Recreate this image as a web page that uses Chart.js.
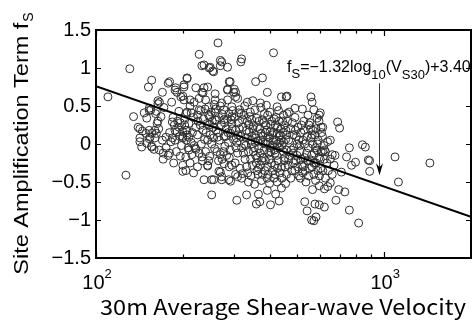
<!DOCTYPE html>
<html>
<head>
<meta charset="utf-8">
<script src="https://cdn.jsdelivr.net/npm/chart.js@4.4.0/dist/chart.umd.min.js"></script>
<style>
    html, body { margin: 0; padding: 0; background: #fff; }
</style>
</head>
<body>
<canvas id="ChartSiteTerm" width="476" height="324"></canvas>
<script>
// [Vs30 (m/s), site term fs]
const sparsePoints = [
    [110,0.62],[131,0.99],[156,0.84],[135,0.36],[127,-0.41],[265,1.33],[228,1.18],[233,1.03],[247,1.0],[254,0.96],
    [273,1.08],[286,1.01],[320,1.12],[318,1.08],[413,1.2],[358,0.82],[378,0.87],[393,0.68],[457,0.62],[557,0.62],
    [562,0.55],[570,0.45],[595,0.38],[604,0.22],[689,0.29],[700,0.21],[757,-0.05],[860,-0.04],[881,-0.21],[636,0.03],
    [625,-0.1],[1090,-0.17],[1440,-0.25],[1120,-0.5],[740,-0.17],[795,-0.24],[770,-0.28],[890,-0.22],[890,-0.36],[710,-0.37],
    [670,-0.28],[660,-0.14],[620,-0.08],[730,-0.63],[695,-0.6],[680,-0.74],[650,-0.51],[757,-0.87],[815,-1.04],[620,-0.83],
    [595,-0.8],[575,-0.79],[530,-0.76],[540,-0.88],[580,-0.96],[570,-1.01],[560,-1.0],[620,-0.59],[637,-0.56],
    [252,-0.67],[308,-0.74],[333,-0.67],[366,-0.66],[360,-0.79],[370,-0.76],[403,-0.8],[432,-0.75],[393,-0.61],[420,-0.66],
    [252,-0.47],[256,-0.47],[273,-0.47],[293,-0.49],[310,-0.43],[270,-0.37],[322,-0.39],[338,-0.5],[355,-0.53],[333,-0.3],
    [233,-0.17],[244,-0.28],[246,-0.22],[215,-0.14],[222,-0.07],[278,-0.26],[296,-0.28],
    [156,-0.03],[159,-0.07],[166,-0.08],[171,-0.2],[180,-0.12],[196,-0.16],[200,-0.36],[209,-0.05],[142,0.03],[182,0.03],
    [205,-0.17],[244,-0.29],[267,-0.36],[273,-0.43],[237,-0.47],[289,-0.47]
];

const upperLeftPoints = [
    [152,0.75],[178,0.8],[188,0.71],[170,0.68],[207,0.86],[202,0.75],[200,0.63],[202,0.58],[164,0.57],[164,0.53],
    [155,0.45],[153,0.44],[162,0.43],[147,0.41],[150,0.34],[164,0.3],[163,0.27],[184,0.29],[187,0.25],[194,0.43],
    [207,0.42],[203,0.32],[194,0.22],[188,0.18],[200,0.16],[207,0.18],[207,0.12],[200,0.1],[184,0.08],[160,0.18],
    [153,0.18],[156,0.14],[162,0.14],[142,0.2],[142,0.08],[153,0.07],[160,0.08],[188,0.05],[200,0.08],[210,0.09],
    [153,0.47],[166,0.55],[161,0.4],[140,0.22],[145,0.17],[149,0.14],[154,0.09],[150,0.01],[156,-0.04],[144,-0.04],
    [171,-0.12],[175,0.09],[191,0.16],[205,0.18],[196,0.28],[205,0.4],[191,0.68],[189,0.74],[202,0.78],[207,0.87],
    [180,0.82],[197,0.62],[222,0.74],[212,0.58],[228,0.6],[233,0.68],[244,0.75],[259,0.58],[273,0.54],[286,0.71],
    [292,0.82],[300,0.68],[305,0.62],[246,0.49],[228,0.45],[214,0.41],[259,0.41],[278,0.45],[296,0.49],[248,0.36],
    [259,0.32],[278,0.32],[296,0.36],[313,0.41],[237,1.04],[249,1.01],[256,0.95],[270,1.1],[270,1.03],[290,0.82],
    [286,0.72],[302,0.72],[305,0.68],[237,0.74],[235,0.67],[259,0.66],[240,0.58],[219,0.55],[286,0.58],[310,0.6],
    [335,0.55],[350,0.57],[372,0.54],[390,0.51],[425,0.49],[440,0.62],[460,0.63],[490,0.47],[520,0.46],[600,0.41],
    [585,0.34],[612,0.22],[552,0.28],[566,0.18],[650,0.05],[840,-0.01],
    [165,0.2],[170,0.05],[175,-0.05],[180,0.15],[185,0.35],[190,-0.1],[195,0.1],[198,-0.02],[203,0.25],[168,0.36],
    [178,-0.15],[186,-0.25],[192,0.3],[200,-0.28],[205,-0.35],[212,-0.25],[218,-0.38],[225,-0.3],[172,0.48],[183,0.55]
];

const corePoints = [
    [212,0.5],[218,0.35],[222,0.22],[225,0.12],[214,0.02],[219,-0.02],[226,0.3],[231,0.44],[235,0.18],[238,0.06],
    [240,-0.1],[243,0.27],[246,0.38],[249,0.12],[252,0.0],[255,0.22],[258,-0.06],[260,0.46],[262,0.31],[265,0.15],
    [268,0.05],[270,-0.14],[272,0.25],[275,0.39],[278,0.1],[280,-0.03],[283,0.2],[286,0.33],[288,0.02],[290,-0.18],
    [293,0.14],[296,0.27],[298,0.44],[300,0.06],[228,-0.12],[234,-0.22],[248,-0.16],[256,0.08],[263,-0.1],[274,-0.2],
    [282,0.1],[292,-0.08],[297,0.2],[230,0.25],[241,0.15],[253,0.3],[267,0.35],[279,0.28],[289,0.4],[244,0.05],
    [261,0.18],[277,-0.1],[216,0.15],[221,-0.05],[236,0.33],[251,0.42],[266,-0.22],[284,-0.15],[294,0.32],[270,0.5],
    [257,0.52],[239,0.46],[225,0.38],[210,0.27],[206,0.05],[210,-0.08],[232,0.0],[247,0.25],[264,0.09],[287,0.15],
    [302,0.35],[305,0.18],[308,0.02],[310,-0.12],[312,0.28],[315,0.45],[318,0.1],[320,-0.05],[323,0.22],[326,0.38],
    [329,-0.2],[332,0.08],[335,0.3],[338,-0.1],[340,0.16],[343,0.42],[346,0.0],[349,-0.28],[352,0.24],[355,0.12],
    [358,-0.15],[361,0.34],[364,0.04],[367,-0.06],[370,0.2],[373,0.48],[376,-0.22],[379,0.1],[382,0.28],[385,-0.35],
    [388,0.0],[391,0.18],[394,0.38],[397,-0.12],[400,0.08],[403,0.26],[406,-0.25],[409,-0.02],[412,0.15],[415,0.33],
    [418,-0.4],[421,0.05],[424,-0.15],[427,0.22],[430,0.44],[433,-0.05],[436,0.12],[440,-0.3],[444,0.3],[448,0.02],
    [452,-0.18],[456,0.18],[460,0.4],[304,-0.25],[316,-0.32],[328,0.5],[336,-0.38],[347,0.32],[356,0.45],[366,-0.32],
    [374,0.14],[383,-0.08],[392,-0.45],[401,0.42],[410,-0.35],[419,0.25],[428,-0.22],[438,0.2],[446,-0.1],[455,0.06],
    [307,0.08],[314,0.2],[322,0.32],[331,-0.02],[339,0.25],[348,0.1],[357,0.02],[363,0.22],[371,-0.12],[378,0.32],
    [386,0.15],[395,0.02],[404,-0.1],[413,0.05],[422,0.35],[431,0.1],[442,-0.02],[450,0.25],[458,-0.08],[325,-0.12],
    [344,-0.2],[362,-0.18],[381,-0.18],[399,-0.2],[417,-0.28],[435,-0.38],[453,-0.3],[311,0.12],[333,0.18],[354,-0.05],
    [368,0.3],[389,0.25],[407,0.3],[426,0.0],[445,0.15],[319,0.4],[341,0.36],[360,-0.25],[384,0.4],[402,0.16],
    [425,0.14],[447,0.38],[306,-0.05],[327,0.0],[350,0.2],[372,0.05],[396,0.1],[416,-0.08],[439,0.05],[459,0.12],
    [290,-0.3],[305,-0.4],[320,-0.45],[345,-0.42],[375,-0.48],[400,-0.52],[425,-0.5],[440,-0.58],[455,-0.52],
    [462,0.3],[466,0.05],[470,-0.15],[474,0.2],[478,-0.35],[482,0.12],[486,-0.05],[490,0.35],[494,-0.22],[498,0.0],
    [502,0.22],[506,-0.42],[510,-0.1],[514,0.15],[518,-0.28],[522,0.05],[526,0.3],[530,-0.18],[535,-0.5],[540,0.1],
    [545,-0.05],[550,-0.32],[555,0.2],[560,-0.15],[565,0.0],[570,-0.4],[575,0.12],[580,-0.25],[585,-0.08],[590,0.05],
    [595,-0.55],[600,-0.2],[606,0.15],[612,-0.35],[618,-0.02],[625,-0.45],[632,-0.25],[468,0.42],[484,-0.25],[500,-0.3],
    [516,0.25],[532,-0.35],[548,0.25],[564,-0.6],[580,0.2],[596,-0.42],[610,0.1],[476,-0.08],[492,0.18],[508,-0.02],
    [524,-0.3],[542,-0.22],[558,0.08],[572,-0.12],[588,-0.35],[604,-0.1],[620,-0.2],[464,-0.28],[480,0.28],[496,0.1],
    [512,-0.45],[528,0.18],[544,0.38],[562,-0.3],[578,-0.48],[594,0.3],[640,-0.35],[650,-0.2],[660,-0.4],[675,-0.15]
];

// extra points where the cloud is nearly solid (Vs30 350-620, fs -0.5..0.2)
const densePoints = [
    [352,-0.1],[358,0.08],[365,-0.4],[372,-0.28],[380,0.02],[387,-0.22],[394,-0.3],[402,-0.05],[410,0.12],[418,-0.12],
    [426,-0.32],[434,0.02],[442,-0.45],[450,-0.22],[458,-0.4],[466,-0.2],[474,-0.45],[482,-0.12],[490,-0.35],[498,-0.15],
    [506,0.05],[514,-0.2],[522,-0.38],[530,0.0],[538,-0.12],[546,-0.42],[554,-0.22],[562,0.12],[570,-0.25],[578,-0.05],
    [586,0.0],[594,-0.18],[602,-0.32],[612,-0.1],[345,0.05],[362,-0.35],[378,-0.4],[396,-0.4],[414,-0.45],[432,0.3]
];

// regression line end points: fs = -1.32 log10(Vs30) + 3.40
const lineV = [100, 2000];
const lineF = [0.76, -0.957];

const yTicks = [-1.5, -1, -0.5, 0, 0.5, 1, 1.5];
const xMajorTicks = [100, 1000];
const xMajorExp = ['2', '3'];
const xMinorTicks = [200, 300, 400, 500, 600, 700, 800, 900];

// arrow from the equation down to the line
const arrowV = 960;
const arrowFrom = 0.80;
const arrowTo = -0.41;
const eqV = 460;
const eqF = 0.95;

const scatterData = sparsePoints.concat(upperLeftPoints, corePoints, densePoints).map(function (p) {
    return { x: p[0], y: p[1] };
});
const lineData = lineV.map(function (v, i) { return { x: v, y: lineF[i] }; });

const sansFont = '"Liberation Sans", Arial, sans-serif';

// text squeezed/stretched horizontally to a given width
function fitText(ctx, text, x, y, width) {
    const w = ctx.measureText(text).width;
    ctx.save();
    ctx.translate(x, y);
    ctx.scale(width / w, 1);
    ctx.fillText(text, 0, 0);
    ctx.restore();
}

// draws the frame, inward ticks, x labels, titles, equation and arrow
const decorPlugin = {
    id: 'decor',
    afterDraw: function (chart) {
        const ctx = chart.ctx;
        const area = chart.chartArea;
        const xs = chart.scales.x;
        const ys = chart.scales.y;
        ctx.save();

        // frame
        ctx.strokeStyle = '#000';
        ctx.lineWidth = 2;
        ctx.strokeRect(area.left, area.top, area.right - area.left, area.bottom - area.top);

        // ticks
        ctx.lineWidth = 1.2;
        ctx.beginPath();
        yTicks.forEach(function (v) {
            const py = Math.round(ys.getPixelForValue(v)) + 0.5;
            ctx.moveTo(area.left, py); ctx.lineTo(area.left + 5, py);
            ctx.moveTo(area.right, py); ctx.lineTo(area.right - 5, py);
        });
        xMajorTicks.forEach(function (v) {
            const px = Math.round(xs.getPixelForValue(v)) + 0.5;
            ctx.moveTo(px, area.bottom); ctx.lineTo(px, area.bottom - 6);
            ctx.moveTo(px, area.top); ctx.lineTo(px, area.top + 6);
        });
        xMinorTicks.forEach(function (v) {
            const px = Math.round(xs.getPixelForValue(v)) + 0.5;
            ctx.moveTo(px, area.bottom); ctx.lineTo(px, area.bottom - 3.5);
            ctx.moveTo(px, area.top); ctx.lineTo(px, area.top + 3.5);
        });
        ctx.stroke();

        // x tick labels 10^n
        ctx.fillStyle = '#000';
        ctx.textBaseline = 'alphabetic';
        ctx.textAlign = 'left';
        xMajorTicks.forEach(function (v, i) {
            const px = xs.getPixelForValue(v);
            ctx.font = '20px ' + sansFont;
            const w1 = ctx.measureText('10').width;
            ctx.font = '13px ' + sansFont;
            const w2 = ctx.measureText(xMajorExp[i]).width;
            const start = px - (w1 + w2) / 2 + 1;
            ctx.font = '20px ' + sansFont;
            ctx.fillText('10', start, area.bottom + 31);
            ctx.font = '13px ' + sansFont;
            ctx.fillText(xMajorExp[i], start + w1, area.bottom + 20);
        });

        // x title
        ctx.font = '21px "Noto Sans CJK JP", ' + sansFont;
        ctx.textAlign = 'left';
        fitText(ctx, '30m Average Shear-wave Velocity', 100, 315, 366);

        // y title
        ctx.save();
        ctx.translate(28, (area.top + area.bottom) / 2);
        ctx.rotate(-Math.PI / 2);
        ctx.textAlign = 'left';
        ctx.font = '21px ' + sansFont;
        const yMain = 'Site Amplification Term f';
        const mainLen = 252;
        ctx.font = '14px ' + sansFont;
        const ws = ctx.measureText('S').width;
        const ys0 = -(mainLen + ws) / 2;
        ctx.font = '21px ' + sansFont;
        fitText(ctx, yMain, ys0, 0, mainLen);
        ctx.font = '14px ' + sansFont;
        ctx.fillText('S', ys0 + mainLen + 1, 5);
        ctx.restore();

        // equation
        const parts = [
            ['f', 16, 0], ['S', 13, 6], ['=\u22121.32log', 16, 0], ['10', 13, 7],
            ['(V', 16, 0], ['S30', 13, 7], [')+3.40', 16, 0]
        ];
        let ex = xs.getPixelForValue(eqV);
        const ey = ys.getPixelForValue(eqF);
        ctx.textAlign = 'left';
        parts.forEach(function (p) {
            ctx.font = p[1] + 'px ' + sansFont;
            ctx.fillText(p[0], ex, ey + p[2]);
            ex += ctx.measureText(p[0]).width;
        });

        // arrow
        const ax = Math.round(xs.getPixelForValue(arrowV)) + 0.5;
        const ay1 = ys.getPixelForValue(arrowFrom);
        const ay2 = ys.getPixelForValue(arrowTo);
        ctx.strokeStyle = '#333';
        ctx.lineWidth = 1;
        ctx.beginPath();
        ctx.moveTo(ax, ay1);
        ctx.lineTo(ax, ay2 - 8);
        ctx.stroke();
        ctx.fillStyle = '#000';
        ctx.beginPath();
        ctx.moveTo(ax, ay2);
        ctx.lineTo(ax - 3.5, ay2 - 12);
        ctx.lineTo(ax, ay2 - 8);
        ctx.lineTo(ax + 3.5, ay2 - 12);
        ctx.closePath();
        ctx.fill();

        ctx.restore();
    }
};

const config = {
    type: 'scatter',
    data: {
        datasets: [{
            type: 'line',
            data: lineData,
            borderColor: '#000',
            borderWidth: 2,
            pointRadius: 0,
            fill: false
        }, {
            data: scatterData,
            pointRadius: 4,
            pointBorderWidth: 1,
            pointBackgroundColor: 'rgba(0,0,0,0)',
            pointBorderColor: '#2e2e2e'
        }]
    },
    options: {
        responsive: false,
        animation: false,
        devicePixelRatio: 1,
        layout: { padding: { top: 30, right: 1, left: 0, bottom: 0 } },
        plugins: {
            legend: { display: false },
            tooltip: { enabled: false }
        },
        scales: {
            x: {
                type: 'logarithmic',
                min: 100,
                max: 2000,
                grid: { display: false, drawTicks: false },
                border: { display: false },
                ticks: { display: false },
                afterFit: function (scale) { scale.height = 66; }
            },
            y: {
                min: -1.5,
                max: 1.5,
                grid: { display: false, drawTicks: false },
                border: { display: false },
                ticks: {
                    stepSize: 0.5,
                    padding: 5,
                    color: '#000',
                    font: { family: sansFont, size: 20 },
                    callback: function (v) {
                        if (v === 0) return '0';
                        return (v < 0 ? '\u2212' : '') + Math.abs(v);
                    }
                },
                afterFit: function (scale) { scale.width = 96; }
            }
        }
    },
    plugins: [decorPlugin]
};

const myChartSite = new Chart(document.getElementById('ChartSiteTerm'), config);
</script>
</body>
</html>
